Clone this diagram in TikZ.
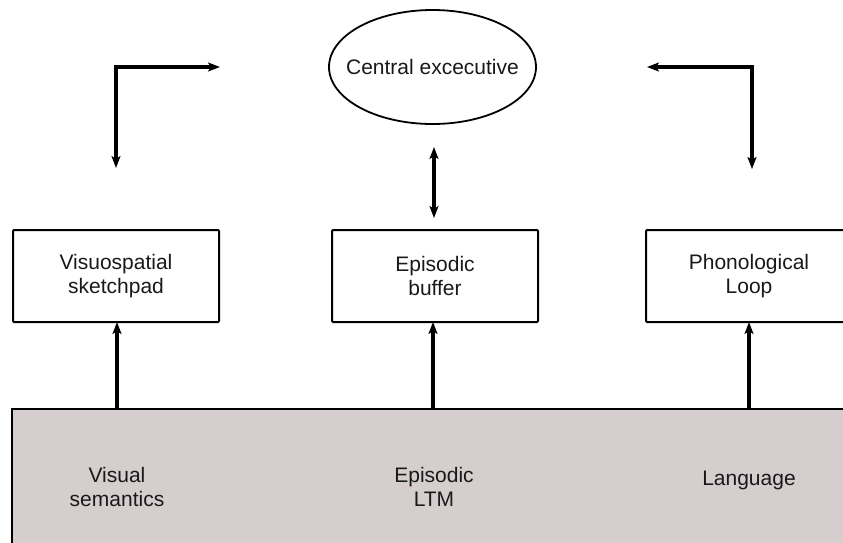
\documentclass[tikz,border=0pt]{standalone}
\usepackage{fontspec}
\setmainfont{Liberation Sans}
\usetikzlibrary{arrows.meta,shapes.geometric}
\definecolor{ltmfill}{RGB}{214,206,206}
\definecolor{txt}{RGB}{25,25,25}
\tikzset{wmtip/.tip={Stealth[length=12pt,width=9pt,inset=3pt]}}
\begin{document}
\begin{tikzpicture}[x=1pt,y=-1pt,
  every node/.style={font=\fontsize{21}{24}\selectfont, text=txt, align=center, inner sep=0pt},
  wmbox/.style={draw=black, line width=2pt, rounded corners=1pt, minimum width=206pt, minimum height=92pt},
  conn/.style={line width=3.3pt, line join=miter},
  upconn/.style={conn, -{wmtip}},
  bothconn/.style={conn, {wmtip}-{wmtip}}
]
\useasboundingbox (0,0) rectangle (843,542);
\begin{scope}
\clip (0,0) rectangle (843,542);
% long-term memory base
\node[draw=black, fill=ltmfill, line width=2pt, minimum width=848pt, minimum height=151pt] (ltm) at (436,484.5) {};
\node (vsem) at (117,487) {Visual\\semantics};
\node (eltm) at (434,487) {Episodic\\LTM};
\node (lang) at (749,480) {Language};
% working memory components
\node[draw=black, line width=1.8pt, ellipse, minimum width=207pt, minimum height=114pt] (ce) at (432.5,67) {};
\node at (ce.center) {Central excecutive};
\node[wmbox] (vs) at (116,276) {Visuospatial\\sketchpad};
\node[wmbox] (eb) at (435,276) {Episodic\\buffer};
\node[wmbox] (pl) at (749,276) {Phonological\\Loop};
\end{scope}
% connectors from LTM to buffers
\draw[upconn] (117,409) -- (117,322) coordinate (vsin);
\draw[upconn] (433,409) -- (433,322);
\draw[upconn] (749,409) -- (749,322);
% central executive <-> episodic buffer
\draw[bothconn] (434,147) coordinate (ceout) -- (434,218) coordinate (ebin);
% elbows
\coordinate (lr) at (220,67);
\coordinate (lc) at (116,67);
\coordinate (ld) at (116,168);
\draw[bothconn] (lr) -- (lc) -- (ld);
\coordinate (rl) at (647,67);
\coordinate (rc) at (752,67);
\coordinate (rd) at (752,169);
\draw[bothconn] (rl) -- (rc) -- (rd);
\end{tikzpicture}
\end{document}
